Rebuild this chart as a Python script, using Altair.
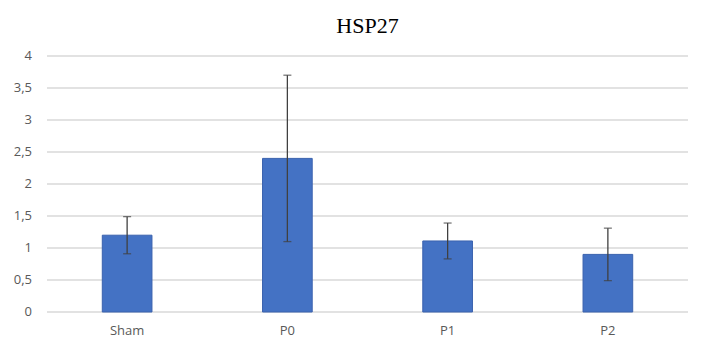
import altair as alt
import pandas as pd

categories = ["Sham", "P0", "P1", "P2"]
means = [1.2, 2.4, 1.11, 0.9]
errors = [0.29, 1.3, 0.28, 0.41]
y_ticks = [0, 0.5, 1, 1.5, 2, 2.5, 3, 3.5, 4]
y_tick_labels = ["0", "0,5", "1", "1,5", "2", "2,5", "3", "3,5", "4"]

df = pd.DataFrame({"group": categories, "mean": means, "err": errors})
df["lo"] = df["mean"] - df["err"]
df["hi"] = df["mean"] + df["err"]
ticks_df = pd.DataFrame({"v": y_ticks, "label": y_tick_labels})

x_axis = alt.Axis(labelAngle=0, labelFont="Open Sans", labelFontSize=13,
                  labelColor="#595959", ticks=False, domain=False, grid=False,
                  labelPadding=12)
x_scale = alt.Scale(paddingInner=0.69, paddingOuter=0.345)
y_scale = alt.Scale(domain=[0, 4], nice=False)


def xe():
    return alt.X("group:N", sort=categories, title=None, scale=x_scale, axis=x_axis)


grid = alt.Chart(ticks_df).mark_rule(color="#D9D9D9", strokeWidth=1.5).encode(
    y=alt.Y("v:Q", scale=y_scale, axis=None),
    x=alt.value(0), x2=alt.value(641))

grid_labels = alt.Chart(ticks_df).mark_text(
    align="right", baseline="middle", font="Open Sans", fontSize=13, color="#595959"
).encode(y=alt.Y("v:Q", scale=y_scale, axis=None), x=alt.value(-15), text="label:N")

bars = alt.Chart(df).mark_bar(color="#4472C4", stroke="#3A62AE", strokeWidth=1).encode(
    x=xe(), y=alt.Y("mean:Q", scale=y_scale, axis=None))

rules = alt.Chart(df).mark_rule(color="#404040", strokeWidth=1.3).encode(
    x=xe(), y=alt.Y("lo:Q", scale=y_scale, axis=None), y2="hi:Q")

caps_hi = alt.Chart(df).mark_tick(color="#404040", size=8, thickness=1.3, orient="horizontal").encode(
    x=xe(), y=alt.Y("hi:Q", scale=y_scale, axis=None))
caps_lo = alt.Chart(df).mark_tick(color="#404040", size=8, thickness=1.3, orient="horizontal").encode(
    x=xe(), y=alt.Y("lo:Q", scale=y_scale, axis=None))

chart = alt.layer(grid, grid_labels, bars, rules, caps_hi, caps_lo).properties(
    width=641, height=256,
    title=alt.TitleParams("HSP27", font="Liberation Serif", fontSize=22,
                          fontWeight="normal", color="#000000", anchor="middle", offset=12),
    autosize=alt.AutoSizeParams(type="none"),
    padding={"left": 47, "top": 56, "right": 21, "bottom": 39},
    background="white",
).configure_view(stroke=None)

chart.save("out.html", embed_options={"renderer": "svg", "actions": False})
